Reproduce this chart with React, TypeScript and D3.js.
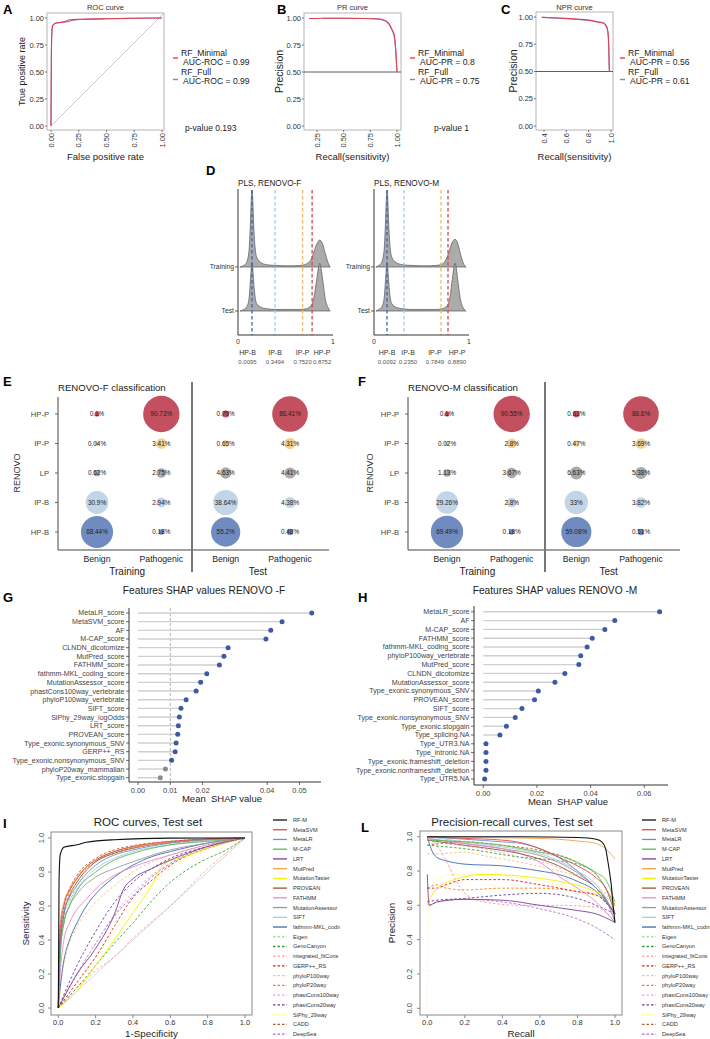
import React, { useEffect, useRef } from 'react';
import * as d3 from 'd3';

type Pt = [number, number];

const FONT = '"Liberation Sans", Arial, Helvetica, sans-serif';

// ---------- A-C : RF_Minimal vs RF_Full ----------
const rfModels = ['RF_Minimal', 'RF_Full'];
const rfColors = ['#e0434b', '#8a7ce6'];
const rocAuc = ['0.99', '0.99'];
const prAuc = ['0.8', '0.75'];
const nprAuc = ['0.56', '0.61'];

const rocMinimal: Pt[] = [[0, 0], [0.003, 0.6], [0.007, 0.86], [0.015, 0.93], [0.04, 0.952], [0.1, 0.962], [0.14, 0.972], [0.16, 0.982], [0.25, 0.988], [0.5, 0.993], [0.75, 0.997], [1, 1]];
const rocFull: Pt[] = [[0, 0], [0.003, 0.58], [0.007, 0.85], [0.015, 0.925], [0.04, 0.95], [0.1, 0.958], [0.15, 0.965], [0.2, 0.979], [0.3, 0.987], [0.5, 0.993], [0.75, 0.997], [1, 1]];
const prMinimal: Pt[] = [[0.175, 0.995], [0.3, 0.997], [0.5, 0.998], [0.7, 0.996], [0.8, 0.993], [0.86, 0.985], [0.9, 0.97], [0.93, 0.94], [0.95, 0.9], [0.965, 0.87], [0.975, 0.84], [0.985, 0.75], [0.992, 0.65], [0.997, 0.55], [1, 0.5]];
const prFull: Pt[] = [[0.3, 0.998], [0.5, 0.998], [0.7, 0.996], [0.8, 0.992], [0.86, 0.984], [0.9, 0.968], [0.93, 0.935], [0.95, 0.895], [0.965, 0.86], [0.975, 0.82], [0.985, 0.73], [0.992, 0.63], [0.997, 0.54], [1, 0.5]];
const nprMinimal: Pt[] = [[0.38, 0.998], [0.5, 0.992], [0.6, 0.987], [0.7, 0.98], [0.8, 0.972], [0.83, 0.968], [0.85, 0.958], [0.9, 0.952], [0.93, 0.945], [0.95, 0.93], [0.965, 0.9], [0.975, 0.84], [0.98, 0.72], [0.983, 0.6], [0.985, 0.5]];
const nprFull: Pt[] = [[0.38, 0.997], [0.5, 0.991], [0.6, 0.985], [0.7, 0.978], [0.8, 0.968], [0.85, 0.962], [0.9, 0.952], [0.93, 0.944], [0.95, 0.928], [0.965, 0.895], [0.975, 0.83], [0.98, 0.7], [0.983, 0.58], [0.986, 0.5]];

// ---------- D : PLS density ridges ----------
const thresholdNames = ['HP-B', 'IP-B', 'IP-P', 'HP-P'];
const thresholdColors = ['#3d62b3', '#a9c8e6', '#efb866', '#cf4654'];
const fThresholdValues = ['0.0095', '0.3494', '0.7520', '0.8752'];
const mThresholdValues = ['0.0092', '0.2350', '0.7849', '0.8890'];
const fLinePos = [0.147, 0.39, 0.68, 0.78];
const mLinePos = [0.137, 0.316, 0.705, 0.779];
const fLabelPos = [0.1, 0.39, 0.68, 0.885];
const mLabelPos = [0.137, 0.358, 0.642, 0.874];

const ridgeFTraining: Pt[] = [[0.02, 0], [0.06, 0.02], [0.09, 0.06], [0.115, 0.2], [0.13, 0.55], [0.14, 0.88], [0.147, 1.0], [0.155, 0.88], [0.165, 0.55], [0.18, 0.25], [0.2, 0.12], [0.24, 0.06], [0.3, 0.03], [0.4, 0.02], [0.55, 0.015], [0.65, 0.02], [0.72, 0.04], [0.77, 0.1], [0.8, 0.2], [0.83, 0.3], [0.86, 0.35], [0.89, 0.3], [0.92, 0.17], [0.95, 0.05], [0.97, 0]];
const ridgeFTest: Pt[] = [[0.02, 0], [0.06, 0.02], [0.09, 0.05], [0.115, 0.15], [0.13, 0.38], [0.14, 0.56], [0.147, 0.62], [0.155, 0.56], [0.165, 0.38], [0.18, 0.18], [0.2, 0.09], [0.24, 0.05], [0.3, 0.03], [0.4, 0.02], [0.55, 0.02], [0.65, 0.02], [0.72, 0.03], [0.77, 0.07], [0.8, 0.18], [0.83, 0.42], [0.85, 0.58], [0.86, 0.62], [0.87, 0.58], [0.89, 0.42], [0.92, 0.15], [0.95, 0.04], [0.97, 0]];
const ridgeMTraining: Pt[] = [[0.02, 0], [0.05, 0.02], [0.08, 0.06], [0.105, 0.2], [0.12, 0.55], [0.13, 0.88], [0.137, 1.0], [0.145, 0.88], [0.155, 0.55], [0.17, 0.25], [0.19, 0.12], [0.23, 0.06], [0.3, 0.03], [0.4, 0.02], [0.55, 0.015], [0.65, 0.02], [0.72, 0.04], [0.76, 0.1], [0.79, 0.2], [0.82, 0.31], [0.853, 0.36], [0.88, 0.31], [0.91, 0.17], [0.94, 0.05], [0.97, 0]];
const ridgeMTest: Pt[] = [[0.02, 0], [0.05, 0.02], [0.08, 0.05], [0.105, 0.15], [0.12, 0.38], [0.13, 0.56], [0.137, 0.62], [0.145, 0.56], [0.155, 0.38], [0.17, 0.18], [0.19, 0.09], [0.23, 0.05], [0.3, 0.03], [0.4, 0.02], [0.55, 0.02], [0.65, 0.02], [0.72, 0.03], [0.77, 0.07], [0.8, 0.18], [0.825, 0.42], [0.843, 0.58], [0.853, 0.62], [0.863, 0.58], [0.88, 0.42], [0.91, 0.15], [0.94, 0.04], [0.97, 0]];

// ---------- E, F : classification bubbles ----------
const classRows = ['HP-P', 'IP-P', 'LP', 'IP-B', 'HP-B'];
const classColors = ['#c2505e', '#f1cf8c', '#a9a9a9', '#c2d5e8', '#6f8bbf'];
const fTrainBenign = [0.1, 0.04, 0.62, 30.9, 68.44];
const fTrainPathogenic = [90.73, 3.41, 2.75, 2.94, 0.18];
const fTestBenign = [0.79, 0.65, 4.63, 38.64, 55.2];
const fTestPathogenic = [86.41, 4.31, 4.41, 4.38, 0.48];
const mTrainBenign = [0.1, 0.02, 1.13, 29.26, 69.49];
const mTrainPathogenic = [90.55, 2.8, 3.67, 2.8, 0.18];
const mTestBenign = [0.62, 0.47, 6.63, 33, 59.08];
const mTestPathogenic = [86.6, 3.69, 5.38, 3.82, 0.51];

// ---------- G, H : SHAP ----------
const shapFFeatures = ['MetaLR_score', 'MetaSVM_score', 'AF', 'M-CAP_score', 'CLNDN_dicotomize', 'MutPred_score', 'FATHMM_score', 'fathmm-MKL_coding_score', 'MutationAssessor_score', 'phastCons100way_vertebrate', 'phyloP100way_vertebrate', 'SIFT_score', 'SiPhy_29way_logOdds', 'LRT_score', 'PROVEAN_score', 'Type_exonic.synonymous_SNV', 'GERP++_RS', 'Type_exonic.nonsynonymous_SNV', 'phyloP20way_mammalian', 'Type_exonic.stopgain'];
const shapFValues = [0.0538, 0.0446, 0.0411, 0.0396, 0.0279, 0.0266, 0.0252, 0.0213, 0.0194, 0.018, 0.0149, 0.0133, 0.0128, 0.0125, 0.0123, 0.0118, 0.0115, 0.0104, 0.0085, 0.0069];
const shapMFeatures = ['MetaLR_score', 'AF', 'M-CAP_score', 'FATHMM_score', 'fathmm-MKL_coding_score', 'phyloP100way_vertebrate', 'MutPred_score', 'CLNDN_dicotomize', 'MutationAssessor_score', 'Type_exonic.synonymous_SNV', 'PROVEAN_score', 'SIFT_score', 'Type_exonic.nonsynonymous_SNV', 'Type_exonic.stopgain', 'Type_splicing.NA', 'Type_UTR3.NA', 'Type_intronic.NA', 'Type_exonic.frameshift_deletion', 'Type_exonic.nonframeshift_deletion', 'Type_UTR5.NA'];
const shapMValues = [0.0657, 0.049, 0.0453, 0.0406, 0.0387, 0.0363, 0.0356, 0.0304, 0.0267, 0.0205, 0.0191, 0.0144, 0.0119, 0.0086, 0.0062, 0.001, 0.001, 0.001, 0.001, 0.0005];

// ---------- I, L : test set curves ----------
const tools = ['RF-M', 'MetaSVM', 'MetaLR', 'M-CAP', 'LRT', 'MutPred', 'MutationTaster', 'PROVEAN', 'FATHMM', 'MutationAssessor', 'SIFT', 'fathmm-MKL_coding', 'Eigen', 'GenoCanyon', 'integrated_fitCons', 'GERP++_RS', 'phyloP100way', 'phyloP20way', 'phastCons100way', 'phastCons20way', 'SiPhy_29way', 'CADD', 'DeepSea'];
const toolColors = ['#111111', '#e0474c', '#6c8fd0', '#5cb85c', '#7f3f98', '#f0a050', '#f2f200', '#a0522d', '#e68ac6', '#999999', '#a9c9e2', '#3b6cb7', '#b2df8a', '#33a02c', '#fb9a99', '#e31a1c', '#fdbf6f', '#ff7f00', '#cab2d6', '#6a3d9a', '#ffff80', '#b15928', '#b266cc'];
const firstDashed = 12;

const rocCurves: Pt[][] = [
  [[0, 0], [0.004, 0.75], [0.01, 0.9], [0.03, 0.945], [0.1, 0.96], [0.15, 0.975], [0.3, 0.99], [0.6, 0.999], [1, 1]],
  [[0, 0], [0.01, 0.45], [0.03, 0.6], [0.06, 0.69], [0.1, 0.76], [0.15, 0.83], [0.2, 0.87], [0.3, 0.92], [0.4, 0.95], [0.6, 0.98], [0.8, 0.995], [1, 1]],
  [[0, 0], [0.01, 0.4], [0.03, 0.56], [0.06, 0.65], [0.1, 0.72], [0.2, 0.84], [0.3, 0.9], [0.4, 0.93], [0.6, 0.97], [0.8, 0.99], [1, 1]],
  [[0, 0], [0.01, 0.3], [0.03, 0.5], [0.06, 0.6], [0.1, 0.69], [0.2, 0.8], [0.3, 0.87], [0.4, 0.91], [0.6, 0.96], [0.8, 0.98], [1, 1]],
  [[0, 0], [0.1, 0.2], [0.2, 0.35], [0.3, 0.55], [0.35, 0.7], [0.4, 0.76], [0.5, 0.82], [0.6, 0.87], [0.8, 0.95], [1, 1]],
  [[0, 0], [0.01, 0.5], [0.03, 0.62], [0.06, 0.7], [0.1, 0.77], [0.2, 0.87], [0.3, 0.92], [0.4, 0.945], [0.6, 0.975], [0.8, 0.99], [1, 1]],
  [[0, 0], [0.1, 0.1], [0.2, 0.25], [0.3, 0.4], [0.4, 0.56], [0.5, 0.72], [0.56, 0.84], [0.7, 0.9], [0.85, 0.96], [1, 1]],
  [[0, 0], [0.01, 0.35], [0.03, 0.55], [0.06, 0.66], [0.1, 0.74], [0.2, 0.86], [0.3, 0.91], [0.4, 0.94], [0.6, 0.975], [1, 1]],
  [[0, 0], [0.01, 0.2], [0.03, 0.4], [0.06, 0.5], [0.1, 0.58], [0.15, 0.64], [0.2, 0.7], [0.3, 0.78], [0.4, 0.83], [0.6, 0.9], [0.8, 0.96], [1, 1]],
  [[0, 0], [0.01, 0.35], [0.03, 0.5], [0.06, 0.6], [0.1, 0.67], [0.2, 0.77], [0.3, 0.82], [0.4, 0.86], [0.6, 0.93], [0.8, 0.97], [1, 1]],
  [[0, 0], [0.01, 0.3], [0.03, 0.55], [0.06, 0.63], [0.1, 0.7], [0.2, 0.82], [0.3, 0.88], [0.4, 0.92], [0.6, 0.96], [1, 1]],
  [[0, 0], [0.01, 0.12], [0.03, 0.28], [0.06, 0.4], [0.1, 0.5], [0.15, 0.6], [0.2, 0.67], [0.3, 0.77], [0.4, 0.84], [0.5, 0.89], [0.6, 0.92], [0.8, 0.97], [1, 1]],
  [[0, 0], [0.01, 0.3], [0.03, 0.5], [0.06, 0.62], [0.1, 0.72], [0.2, 0.86], [0.3, 0.92], [0.4, 0.95], [0.6, 0.98], [1, 1]],
  [[0, 0], [0.1, 0.12], [0.2, 0.25], [0.3, 0.38], [0.4, 0.5], [0.5, 0.63], [0.6, 0.74], [0.7, 0.82], [0.8, 0.88], [0.9, 0.93], [1, 1]],
  [[0, 0], [0.2, 0.22], [0.3, 0.3], [0.4, 0.41], [0.6, 0.6], [0.8, 0.82], [1, 1]],
  [[0, 0], [0.1, 0.15], [0.2, 0.3], [0.3, 0.48], [0.4, 0.65], [0.5, 0.75], [0.6, 0.84], [0.8, 0.94], [1, 1]],
  [[0, 0], [0.02, 0.2], [0.05, 0.35], [0.1, 0.48], [0.2, 0.62], [0.3, 0.72], [0.4, 0.8], [0.6, 0.9], [0.8, 0.96], [1, 1]],
  [[0, 0], [0.01, 0.35], [0.03, 0.55], [0.06, 0.68], [0.1, 0.76], [0.2, 0.86], [0.3, 0.91], [0.4, 0.94], [0.6, 0.97], [1, 1]],
  [[0, 0], [0.1, 0.2], [0.2, 0.38], [0.3, 0.55], [0.4, 0.68], [0.5, 0.78], [0.6, 0.85], [0.8, 0.94], [1, 1]],
  [[0, 0], [0.1, 0.25], [0.2, 0.45], [0.3, 0.62], [0.4, 0.74], [0.5, 0.82], [0.6, 0.88], [0.8, 0.95], [1, 1]],
  [[0, 0], [0.1, 0.15], [0.2, 0.3], [0.3, 0.45], [0.4, 0.6], [0.5, 0.72], [0.6, 0.82], [0.8, 0.93], [1, 1]],
  [[0, 0], [0.01, 0.4], [0.03, 0.6], [0.06, 0.7], [0.1, 0.78], [0.2, 0.88], [0.3, 0.93], [0.4, 0.955], [0.6, 0.98], [1, 1]],
  [[0, 0], [0.1, 0.2], [0.2, 0.38], [0.3, 0.54], [0.4, 0.66], [0.5, 0.77], [0.6, 0.85], [0.8, 0.95], [1, 1]],
];

const prCurves: Pt[][] = [
  [[0, 1], [0.5, 1], [0.8, 0.995], [0.9, 0.985], [0.93, 0.97], [0.95, 0.93], [0.96, 0.87], [0.97, 0.8], [0.98, 0.72], [0.99, 0.6], [1, 0.5]],
  [[0, 1], [0.2, 0.99], [0.4, 0.98], [0.5, 0.965], [0.6, 0.93], [0.7, 0.88], [0.8, 0.83], [0.9, 0.76], [0.95, 0.7], [1, 0.55]],
  [[0, 1], [0.2, 0.985], [0.4, 0.97], [0.5, 0.96], [0.6, 0.93], [0.7, 0.88], [0.8, 0.8], [0.9, 0.7], [0.95, 0.64], [1, 0.5]],
  [[0, 0.98], [0.2, 0.97], [0.4, 0.95], [0.6, 0.91], [0.7, 0.89], [0.8, 0.85], [0.9, 0.79], [0.95, 0.75], [1, 0.62]],
  [[0, 0.78], [0.01, 0.6], [0.05, 0.62], [0.2, 0.635], [0.4, 0.63], [0.6, 0.6], [0.8, 0.57], [0.9, 0.55], [1, 0.5]],
  [[0, 1], [0.3, 0.995], [0.6, 0.99], [0.8, 0.975], [0.9, 0.96], [0.95, 0.93], [1, 0.87]],
  [[0, 0.6], [0.02, 0.65], [0.1, 0.73], [0.3, 0.78], [0.5, 0.77], [0.7, 0.74], [0.85, 0.7], [0.95, 0.65], [1, 0.6]],
  [[0, 0.98], [0.2, 0.95], [0.4, 0.92], [0.5, 0.9], [0.6, 0.87], [0.7, 0.83], [0.8, 0.77], [0.9, 0.7], [1, 0.55]],
  [[0, 0.99], [0.2, 0.96], [0.4, 0.93], [0.5, 0.9], [0.6, 0.85], [0.7, 0.77], [0.8, 0.7], [0.9, 0.62], [1, 0.5]],
  [[0, 0.99], [0.2, 0.96], [0.4, 0.93], [0.6, 0.89], [0.7, 0.85], [0.8, 0.79], [0.9, 0.7], [1, 0.55]],
  [[0, 1], [0.2, 0.97], [0.4, 0.94], [0.6, 0.9], [0.7, 0.86], [0.8, 0.8], [0.9, 0.72], [1, 0.55]],
  [[0, 1], [0.02, 0.93], [0.05, 0.88], [0.1, 0.86], [0.2, 0.84], [0.4, 0.83], [0.6, 0.8], [0.7, 0.78], [0.8, 0.74], [0.9, 0.68], [1, 0.55]],
  [[0, 0.95], [0.1, 0.98], [0.3, 0.96], [0.5, 0.93], [0.7, 0.88], [0.8, 0.85], [0.9, 0.78], [1, 0.6]],
  [[0, 0.95], [0.2, 0.93], [0.5, 0.88], [0.7, 0.86], [0.8, 0.84], [0.9, 0.78], [1, 0.6]],
  [[0, 1], [0.05, 0.95], [0.1, 0.86], [0.15, 0.75], [0.2, 0.67], [0.3, 0.62], [0.5, 0.6], [0.7, 0.6], [0.9, 0.59], [1, 0.5]],
  [[0, 0.7], [0.05, 0.7], [0.1, 0.72], [0.2, 0.75], [0.4, 0.75], [0.6, 0.72], [0.8, 0.68], [0.9, 0.66], [1, 0.55]],
  [[0, 0.9], [0.05, 0.9], [0.2, 0.91], [0.3, 0.89], [0.5, 0.85], [0.7, 0.8], [0.8, 0.77], [0.9, 0.72], [1, 0.6]],
  [[0, 0.7], [0.05, 0.72], [0.1, 0.7], [0.2, 0.69], [0.4, 0.7], [0.6, 0.7], [0.8, 0.68], [0.9, 0.66], [1, 0.55]],
  [[0, 0.98], [0.1, 0.96], [0.3, 0.93], [0.5, 0.88], [0.7, 0.82], [0.9, 0.7], [1, 0.55]],
  [[0, 0.62], [0.05, 0.63], [0.2, 0.64], [0.4, 0.66], [0.6, 0.67], [0.8, 0.64], [0.9, 0.6], [1, 0.55]],
  [[0, 0], [0.003, 0.5], [0.01, 0.65], [0.05, 0.75], [0.15, 0.78], [0.3, 0.78], [0.5, 0.76], [0.7, 0.72], [0.9, 0.65], [1, 0.55]],
  [[0, 0.95], [0.2, 0.97], [0.4, 0.95], [0.6, 0.92], [0.8, 0.85], [0.9, 0.78], [1, 0.6]],
  [[0.01, 0.6], [0.1, 0.63], [0.2, 0.635], [0.4, 0.62], [0.6, 0.58], [0.8, 0.52], [0.9, 0.47], [1, 0.4]],
];

type G = d3.Selection<SVGGElement, unknown, null, undefined>;

const App = () => {
  const svgRef = useRef<SVGSVGElement>(null);

  useEffect(() => {
    const svg = d3.select(svgRef.current);
    svg.selectAll('*').remove();
    const root: G = svg.append('g');

    const text = (g: G, x: number, y: number, s: string, size: number, opts: any = {}) => {
      const t = g.append('text').attr('x', x).attr('y', y).text(s)
        .attr('font-size', size)
        .attr('fill', opts.fill || '#222')
        .attr('text-anchor', opts.anchor || 'start');
      if (opts.weight) t.attr('font-weight', opts.weight);
      if (opts.dy) t.attr('dy', opts.dy);
      if (opts.rotate) t.attr('transform', `rotate(${opts.rotate},${x},${y})`);
      return t;
    };
    const hline = (g: G, x1: number, x2: number, y: number, stroke = '#333', w = 1) =>
      g.append('line').attr('x1', x1).attr('x2', x2).attr('y1', y).attr('y2', y).attr('stroke', stroke).attr('stroke-width', w);
    const vline = (g: G, x: number, y1: number, y2: number, stroke = '#333', w = 1) =>
      g.append('line').attr('x1', x).attr('x2', x).attr('y1', y1).attr('y2', y2).attr('stroke', stroke).attr('stroke-width', w);

    // panel letters
    [['A', 3, 14], ['B', 277, 14], ['C', 501, 14], ['D', 206, 175], ['E', 3, 386], ['F', 358, 386], ['G', 3, 602], ['H', 358, 602], ['I', 3, 828], ['L', 361, 832]]
      .forEach(([l, x, y]) => text(root, x as number, y as number, l as string, 13, { weight: 'bold', fill: '#000' }));

    // ---------- A-C ----------
    const small = (cfg: any) => {
      const g = root.append('g');
      const x = d3.scaleLinear().domain(cfg.xd).range(cfg.xr);
      const y = d3.scaleLinear().domain([0, 1]).range(cfg.yr);
      const [bx0, bx1, by0, by1] = cfg.box;
      g.append('rect').attr('x', bx0).attr('y', by0).attr('width', bx1 - bx0).attr('height', by1 - by0)
        .attr('fill', 'none').attr('stroke', '#b5b5b5').attr('stroke-width', 1);
      text(g, (bx0 + bx1) / 2, 10, cfg.title, 7.5, { anchor: 'middle', fill: '#333' });
      [0, 0.25, 0.5, 0.75, 1].forEach(t => {
        hline(g, bx0 - 2, bx0, y(t), '#555', 0.8);
        text(g, bx0 - 3, y(t), d3.format('.2f')(t), 7.5, { anchor: 'end', dy: '0.35em', fill: '#333' });
      });
      cfg.xt.forEach((t: number) => {
        vline(g, x(t), by1, by1 + 2, '#555', 0.8);
        text(g, x(t), by1 + 3, d3.format(cfg.xf)(t), 7.5, { anchor: 'end', dy: '0.35em', fill: '#333', rotate: -90 });
      });
      text(g, cfg.ylx, (by0 + by1) / 2, cfg.ylab, cfg.yls, { anchor: 'middle', rotate: -90 });
      text(g, (bx0 + bx1) / 2, 160, cfg.xlab, 9.5, { anchor: 'middle' });
      if (cfg.diag) g.append('line').attr('x1', x(0)).attr('y1', y(0)).attr('x2', bx1).attr('y2', by0).attr('stroke', '#bbb').attr('stroke-width', 0.8);
      if (cfg.half) hline(g, bx0, bx1, y(0.5), '#333', 0.8);
      const line = d3.line<Pt>().x(d => x(d[0])).y(d => y(d[1])).curve(d3.curveMonotoneX);
      [cfg.s2, cfg.s1].forEach((s: Pt[], i: number) => {
        g.append('path').attr('d', line(s)).attr('fill', 'none').attr('stroke', i === 0 ? rfColors[1] : rfColors[0]).attr('stroke-width', 1.1);
      });
      // legend
      const lx = cfg.lx;
      rfModels.forEach((m, i) => {
        const y0 = 55.5 + i * 19;
        hline(g, lx, lx + 5, y0 + 2.5 + i * 2.5, rfColors[i], 1.4);
        text(g, lx + 8, y0, m, 8.6);
        text(g, lx + 10, y0 + 9.5, `${cfg.aucLabel} = ${cfg.auc[i]}`, 8.6);
      });
      if (cfg.p) text(g, cfg.px, 131, cfg.p, 8.5);
    };
    small({ box: [47, 164, 13, 130], xd: [0, 1], xr: [51, 162], yr: [126, 18], xt: [0, 0.25, 0.5, 0.75, 1], xf: '.2f', title: 'ROC curve', ylab: 'True positive rate', ylx: 25, yls: 9, xlab: 'False positive rate', diag: true, s1: rocMinimal, s2: rocFull, lx: 173, aucLabel: 'AUC-ROC', auc: rocAuc, p: 'p-value 0.193', px: 185 });
    small({ box: [304, 401, 13, 130], xd: [0.25, 1], xr: [317, 397], yr: [126, 18], xt: [0.25, 0.5, 0.75, 1], xf: '.2f', title: 'PR curve', ylab: 'Precision', ylx: 283, yls: 10.5, xlab: 'Recall(sensitivity)', half: true, s1: prMinimal, s2: prFull, lx: 410, aucLabel: 'AUC-PR', auc: prAuc, p: 'p-value 1', px: 434 });
    small({ box: [536, 613, 12, 130], xd: [0.4, 1], xr: [544, 611], yr: [126, 17], xt: [0.4, 0.6, 0.8, 1], xf: '.1f', title: 'NPR curve', ylab: 'Precision', ylx: 517, yls: 10.5, xlab: 'Recall(sensitivity)', half: true, s1: nprMinimal, s2: nprFull, lx: 620, aucLabel: 'AUC-PR', auc: nprAuc });

    // ---------- D ----------
    const ridges = (cfg: any) => {
      const g = root.append('g');
      const x = d3.scaleLinear().domain([0, 1]).range(cfg.xr);
      const h = d3.scaleLinear().domain([0, 1]).range([0, 77]);
      const top = 189, bottom = 335;
      text(g, cfg.xr[0], 186, cfg.title, 8.2);
      [[cfg.train, 267, 'Training'], [cfg.test, 311, 'Test']].forEach(([data, base, lab]: any) => {
        const area = d3.area<Pt>().x(d => x(d[0])).y0(base).y1(d => base - h(d[1])).curve(d3.curveMonotoneX);
        g.append('path').attr('d', area(data)).attr('fill', '#ababab').attr('stroke', '#555').attr('stroke-width', 0.7);
        hline(g, cfg.xr[0] - 3, cfg.xr[0], base, '#333', 0.8);
        text(g, cfg.xr[0] - 4, base, lab, 6.8, { anchor: 'end', dy: '0.35em', fill: '#333' });
      });
      cfg.lines.forEach((p: number, i: number) => {
        vline(g, x(p), top + 1, bottom, thresholdColors[i], 1.3).attr('stroke-dasharray', '3.5,2.5');
      });
      vline(g, cfg.xr[0], top, bottom, '#333', 1);
      hline(g, cfg.xr[0], cfg.xr[1], bottom, '#333', 1);
      text(g, x(0), 344, '0', 7, { anchor: 'middle', fill: '#333' });
      text(g, x(1), 344, '1', 7, { anchor: 'middle', fill: '#333' });
      cfg.labels.forEach((p: number, i: number) => {
        text(g, x(p), 355, thresholdNames[i], 7, { anchor: 'middle', fill: '#333' });
        text(g, x(p), 363.5, cfg.values[i], 6, { anchor: 'middle', fill: '#555' });
      });
    };
    ridges({ xr: [238, 333], title: 'PLS, RENOVO-F', train: ridgeFTraining, test: ridgeFTest, lines: fLinePos, labels: fLabelPos, values: fThresholdValues });
    ridges({ xr: [374, 469], title: 'PLS, RENOVO-M', train: ridgeMTraining, test: ridgeMTest, lines: mLinePos, labels: mLabelPos, values: mThresholdValues });

    // ---------- E, F ----------
    const rScale = d3.scaleSqrt().domain([0, 100]).range([2, 19]);
    const bubbles = (cfg: any) => {
      const g = root.append('g');
      const yS = d3.scalePoint<string>().domain(classRows).range([414, 532]);
      const xS = d3.scalePoint<number>().domain([0, 1, 2, 3]).range(cfg.cols);
      text(g, cfg.axisX, 391, cfg.title, 9.6);
      vline(g, cfg.axisX, 397, 550, '#444', 1);
      hline(g, cfg.axisX, cfg.endX, 550, '#444', 1);
      vline(g, cfg.sepX, 382, 572, '#777', 2);
      classRows.forEach(r => {
        hline(g, cfg.axisX - 3, cfg.axisX, yS(r)!, '#444', 0.8);
        text(g, cfg.axisX - 9, yS(r)!, r, 7.6, { anchor: 'end', dy: '0.35em', fill: '#444' });
      });
      text(g, cfg.ylabX, 473, 'RENOVO', 9, { anchor: 'middle', rotate: -90, fill: '#333' });
      cfg.data.forEach((col: number[], ci: number) => {
        col.forEach((v, ri) => {
          const cx = xS(ci)!, cy = yS(classRows[ri])!;
          g.append('circle').attr('cx', cx).attr('cy', cy).attr('r', rScale(v)).attr('fill', classColors[ri]);
          text(g, cx, cy, `${v}%`, 6.4, { anchor: 'middle', dy: '0.35em', fill: '#222' });
        });
        text(g, xS(ci)!, 562, ci % 2 === 0 ? 'Benign' : 'Pathogenic', 8.7, { anchor: 'middle', fill: '#222' });
      });
      text(g, (xS(0)! + xS(1)!) / 2 - 2, 574.5, 'Training', 10, { anchor: 'middle', fill: '#222' });
      text(g, (xS(2)! + xS(3)!) / 2, 574.5, 'Test', 10, { anchor: 'middle', fill: '#222' });
    };
    bubbles({ axisX: 58, endX: 329, sepX: 192, cols: [97, 290], ylabX: 20, title: 'RENOVO-F classification', data: [fTrainBenign, fTrainPathogenic, fTestBenign, fTestPathogenic] });
    bubbles({ axisX: 408, endX: 680, sepX: 545, cols: [447, 641], ylabX: 373, title: 'RENOVO-M classification', data: [mTrainBenign, mTrainPathogenic, mTestBenign, mTestPathogenic] });

    // ---------- G, H ----------
    const shap = (cfg: any) => {
      const g = root.append('g');
      const x = d3.scaleLinear().domain([0, cfg.dmax]).range(cfg.xr);
      const y = d3.scalePoint<string>().domain(cfg.features).range(cfg.yr);
      text(g, cfg.titleX, 594, cfg.title, 10.2, { anchor: 'middle', fill: '#222' });
      if (cfg.dashAt != null) vline(g, x(cfg.dashAt), cfg.top, cfg.bottom, '#aaa', 0.9).attr('stroke-dasharray', '3,2');
      cfg.features.forEach((f: string, i: number) => {
        const v = cfg.values[i];
        hline(g, x(0), x(v), y(f)!, '#cfcfcf', 1.4);
        g.append('circle').attr('cx', x(v)).attr('cy', y(f)!).attr('r', 2.5)
          .attr('fill', cfg.dashAt != null && v < cfg.dashAt ? '#8c8c8c' : '#3b5ba5');
        hline(g, cfg.axisX - 3, cfg.axisX, y(f)!, '#444', 0.8);
        text(g, cfg.axisX - 4.5, y(f)!, f, 7.1, { anchor: 'end', dy: '0.35em', fill: '#444' });
      });
      vline(g, cfg.axisX, cfg.top, cfg.bottom, '#333', 1);
      hline(g, cfg.axisX, cfg.endX, cfg.bottom, '#333', 1);
      cfg.ticks.forEach((t: number) => {
        vline(g, x(t), cfg.bottom, cfg.bottom + 3, '#444', 0.8);
        text(g, x(t), cfg.bottom + 10.5, d3.format('.2f')(t), 7.4, { anchor: 'middle', fill: '#444' });
      });
      text(g, cfg.xlabX, cfg.bottom + 20, 'Mean  SHAP value', 9.5, { anchor: 'middle', fill: '#222' }).style('white-space', 'pre');
    };
    shap({ features: shapFFeatures, values: shapFValues, dmax: 0.05, xr: [138, 299.5], yr: [613, 777.7], axisX: 129, endX: 321, top: 608, bottom: 782, ticks: [0, 0.01, 0.02, 0.04, 0.05], dashAt: 0.01, title: 'Features SHAP values RENOVO -F', titleX: 204, xlabX: 222 });
    shap({ features: shapMFeatures, values: shapMValues, dmax: 0.06, xr: [483.3, 644.3], yr: [611.8, 779], axisX: 474, endX: 668, top: 606, bottom: 785, ticks: [0, 0.02, 0.04, 0.06], title: 'Features SHAP values RENOVO -M', titleX: 555, xlabX: 568 });

    // ---------- I, L ----------
    const clip = svg.append('defs').append('clipPath').attr('id', 'legI');
    clip.append('rect').attr('x', 0).attr('y', 800).attr('width', 340).attr('height', 240);
    const big = (cfg: any) => {
      const g = root.append('g');
      const x = d3.scaleLinear().domain([0, 1]).range(cfg.xr);
      const y = d3.scaleLinear().domain([0, 1]).range(cfg.yr);
      const [bx0, bx1, by0, by1] = cfg.box;
      text(g, cfg.titleX, 826, cfg.title, 11.5, { anchor: 'middle', fill: '#222' });
      const ticks = [0, 0.2, 0.4, 0.6, 0.8, 1];
      ticks.forEach(t => {
        vline(g, x(t), by1, by1 + 3, '#666', 0.8);
        text(g, x(t), 1025, d3.format('.1f')(t), 7.5, { anchor: 'middle', fill: '#333' });
        hline(g, bx0 - 3, bx0, y(t), '#666', 0.8);
        text(g, cfg.ytx, y(t), d3.format('.1f')(t), 7.5, { anchor: 'middle', fill: '#333', rotate: -90 });
      });
      text(g, (bx0 + bx1) / 2, 1037, cfg.xlab, 9.8, { anchor: 'middle', fill: '#222' });
      text(g, cfg.ylx, (by0 + by1) / 2, cfg.ylab, 9.8, { anchor: 'middle', fill: '#222', rotate: -90 });
      const body = g.append('g');
      if (cfg.diag) body.append('line').attr('x1', x(0)).attr('y1', y(0)).attr('x2', x(1)).attr('y2', y(1)).attr('stroke', '#d0d0d0').attr('stroke-width', 0.8);
      const line = d3.line<Pt>().x(d => x(d[0])).y(d => y(d[1])).curve(d3.curveMonotoneX);
      for (let i = tools.length - 1; i >= 0; i--) {
        const p = body.append('path').attr('d', line(cfg.curves[i])).attr('fill', 'none')
          .attr('stroke', toolColors[i]).attr('stroke-width', i === 0 ? 1.1 : 0.9);
        if (i >= firstDashed) p.attr('stroke-dasharray', '2.5,2');
      }
      g.append('rect').attr('x', bx0).attr('y', by0).attr('width', bx1 - bx0).attr('height', by1 - by0)
        .attr('fill', 'none').attr('stroke', '#8a8a8a').attr('stroke-width', 1);
      const leg = g.append('g');
      if (cfg.clip) leg.attr('clip-path', `url(#${cfg.clip})`);
      tools.forEach((t, i) => {
        const ly = 820 + i * 9.73;
        const l = hline(leg, cfg.lx, cfg.lx + 14, ly, toolColors[i], 1.3);
        if (i >= firstDashed) l.attr('stroke-dasharray', '2.5,2');
        text(leg, cfg.lx + 20, ly, t, 5.6, { dy: '0.35em', fill: '#333' });
      });
    };
    big({ box: [51, 252, 832, 1015], xr: [58.3, 245], yr: [1008, 838], title: 'ROC curves, Test set', titleX: 148, xlab: '1-Specificity', ylab: 'Sensitivity', ytx: 44, ylx: 29, diag: true, curves: rocCurves, lx: 273, clip: 'legI' });
    big({ box: [420, 622, 831, 1015], xr: [427.3, 615], yr: [1008.3, 836.7], title: 'Precision-recall curves, Test set', titleX: 512, xlab: 'Recall', ylab: 'Precision', ytx: 412, ylx: 395, curves: prCurves, lx: 642 });
  }, []);

  return (
    <svg ref={svgRef} width={710} height={1039} fontFamily={FONT}
      style={{ position: 'absolute', left: 0, top: 0, background: '#fff' }} />
  );
};

export default App;
